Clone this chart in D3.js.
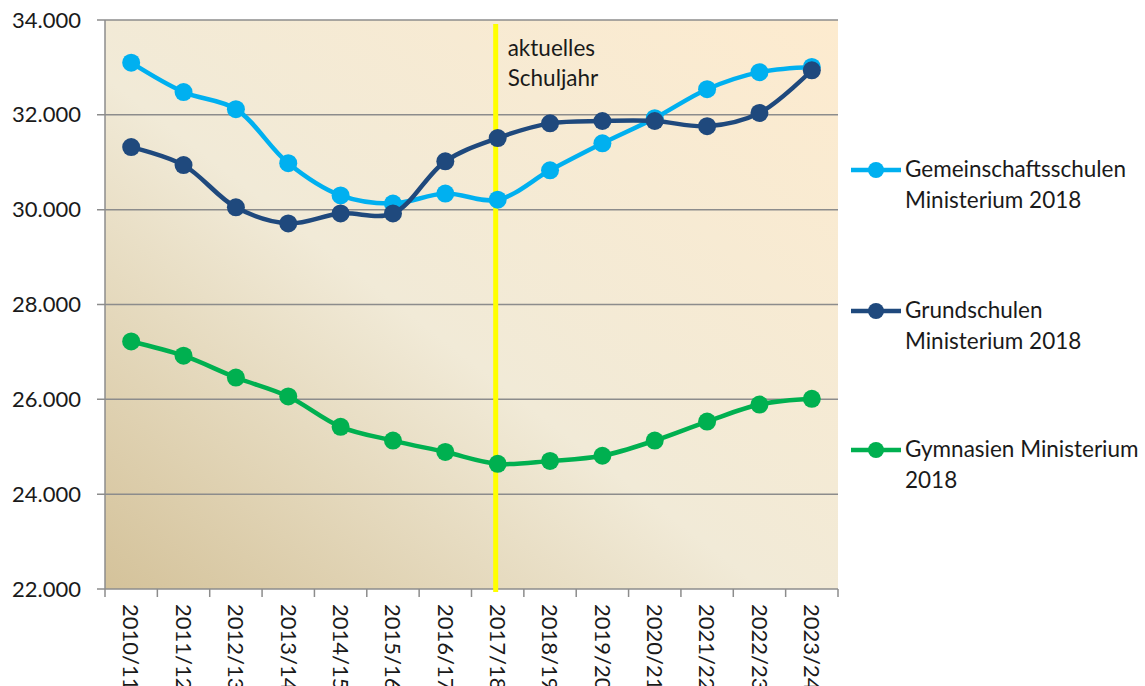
<!DOCTYPE html>
<html>
<head>
<meta charset="utf-8">
<script src="https://cdn.jsdelivr.net/npm/d3@7"></script>
<style>
  body { margin: 0; background: #fff; }
  svg { display: block; font-family: Lato, "Open Sans", sans-serif; }
  .axis path { display: none; }
  .axis text { font-size: 22px; fill: #1a1a1a; font-family: Lato, "Open Sans", sans-serif; }
</style>
</head>
<body>
<div id="chart"></div>
<script>
const width = 1145;
const height = 686;
const margin = { top: 20, right: 307, bottom: 97, left: 105 };

// data
const years = ["2010/11", "2011/12", "2012/13", "2013/14", "2014/15", "2015/16", "2016/17",
  "2017/18", "2018/19", "2019/20", "2020/21", "2021/22", "2022/23", "2023/24"];
const gemeinschaft = [33100, 32480, 32120, 30980, 30300, 30130, 30340, 30210, 30830, 31400, 31930, 32540, 32900, 33010];
const grund = [31320, 30940, 30050, 29710, 29920, 29920, 31020, 31510, 31820, 31870, 31870, 31760, 32040, 32940];
const gymnasien = [27220, 26920, 26460, 26060, 25420, 25130, 24890, 24640, 24700, 24810, 25130, 25530, 25890, 26010];
const yTicks = [22000, 24000, 26000, 28000, 30000, 32000, 34000];
const currentYear = "2017/18";
const currentLabel = ["aktuelles", "Schuljahr"];

const series = [
  { name: ["Gemeinschaftsschulen", "Ministerium 2018"], values: gemeinschaft, color: "#00b0f0", ly: 170 },
  { name: ["Grundschulen", "Ministerium 2018"], values: grund, color: "#1f497d", ly: 311 },
  { name: ["Gymnasien Ministerium", "2018"], values: gymnasien, color: "#00b050", ly: 450 }
];

const svg = d3.select("#chart").append("svg")
  .attr("width", width)
  .attr("height", height);

const x = d3.scaleBand().domain(years).range([margin.left, width - margin.right]);
const y = d3.scaleLinear().domain([22000, 34000]).range([height - margin.bottom, margin.top]);
const cx = d => x(d) + x.bandwidth() / 2;

// background gradient
const defs = svg.append("defs");
const grad = defs.append("linearGradient")
  .attr("id", "bg")
  .attr("x1", "0%").attr("y1", "100%")
  .attr("x2", "100%").attr("y2", "0%");
grad.append("stop").attr("offset", "0%").attr("stop-color", "#d4c29a");
grad.append("stop").attr("offset", "45%").attr("stop-color", "#f1ead7");
grad.append("stop").attr("offset", "100%").attr("stop-color", "#fdebcf");

svg.append("rect")
  .attr("x", margin.left)
  .attr("y", margin.top)
  .attr("width", width - margin.right - margin.left)
  .attr("height", height - margin.bottom - margin.top)
  .attr("fill", "url(#bg)");

// gridlines
svg.append("g")
  .selectAll("line")
  .data(yTicks)
  .join("line")
  .attr("x1", margin.left - 8)
  .attr("x2", width - margin.right)
  .attr("y1", d => y(d))
  .attr("y2", d => y(d))
  .attr("stroke", "#8c8c8c")
  .attr("stroke-width", 1.5);

// left axis line
svg.append("line")
  .attr("x1", margin.left).attr("x2", margin.left)
  .attr("y1", margin.top).attr("y2", height - margin.bottom)
  .attr("stroke", "#8c8c8c").attr("stroke-width", 1.5);

// y axis labels (German thousands separator)
svg.append("g")
  .attr("class", "axis")
  .attr("transform", `translate(${margin.left},0)`)
  .call(d3.axisLeft(y).tickValues(yTicks).tickSize(0).tickPadding(24)
    .tickFormat(d => d3.format(",")(d).replace(",", ".")));

// x axis ticks at band boundaries
const bounds = years.map(d => x(d)).concat([x(years[years.length - 1]) + x.bandwidth()]);
svg.append("g")
  .selectAll("line")
  .data(bounds)
  .join("line")
  .attr("x1", d => d).attr("x2", d => d)
  .attr("y1", y(22000)).attr("y2", y(22000) + 8)
  .attr("stroke", "#8c8c8c").attr("stroke-width", 1.5);

// x labels, rotated
svg.append("g")
  .selectAll("text")
  .data(years)
  .join("text")
  .attr("transform", d => `translate(${cx(d)},${y(22000) + 15}) rotate(90)`)
  .attr("dy", "0.35em")
  .attr("font-size", 22)
  .attr("fill", "#1a1a1a")
  .text(d => d);

// current school year marker
const cyX = cx(currentYear) - 2;
svg.append("line")
  .attr("x1", cyX).attr("x2", cyX)
  .attr("y1", margin.top + 4).attr("y2", y(22000) + 3)
  .attr("stroke", "#ffff00").attr("stroke-width", 5);

svg.append("text")
  .attr("x", cyX + 12)
  .attr("y", 56)
  .attr("font-size", 22.5)
  .attr("fill", "#1a1a1a")
  .selectAll("tspan")
  .data(currentLabel)
  .join("tspan")
  .attr("x", cyX + 12)
  .attr("dy", (d, i) => i ? 30 : 0)
  .text(d => d);

// lines
const line = d3.line()
  .x((d, i) => cx(years[i]))
  .y(d => y(d))
  .curve(d3.curveCatmullRom.alpha(0.5));

series.forEach(s => {
  const g = svg.append("g");
  g.append("path")
    .attr("d", line(s.values))
    .attr("fill", "none")
    .attr("stroke", s.color)
    .attr("stroke-width", 4.5);
  g.selectAll("circle")
    .data(s.values)
    .join("circle")
    .attr("cx", (d, i) => cx(years[i]))
    .attr("cy", d => y(d))
    .attr("r", 9)
    .attr("fill", s.color);
});

// legend
const legend = svg.append("g");
series.forEach(s => {
  const lg = legend.append("g").attr("transform", `translate(851,${s.ly})`);
  lg.append("line")
    .attr("x1", 0).attr("x2", 50)
    .attr("stroke", s.color).attr("stroke-width", 4.5);
  lg.append("circle").attr("cx", 25).attr("r", 8).attr("fill", s.color);
  lg.append("text")
    .attr("font-size", 22.5)
    .attr("fill", "#1a1a1a")
    .selectAll("tspan")
    .data(s.name)
    .join("tspan")
    .attr("x", 54)
    .attr("y", (d, i) => 7 + i * 30.5)
    .text(d => d);
});
</script>
</body>
</html>
